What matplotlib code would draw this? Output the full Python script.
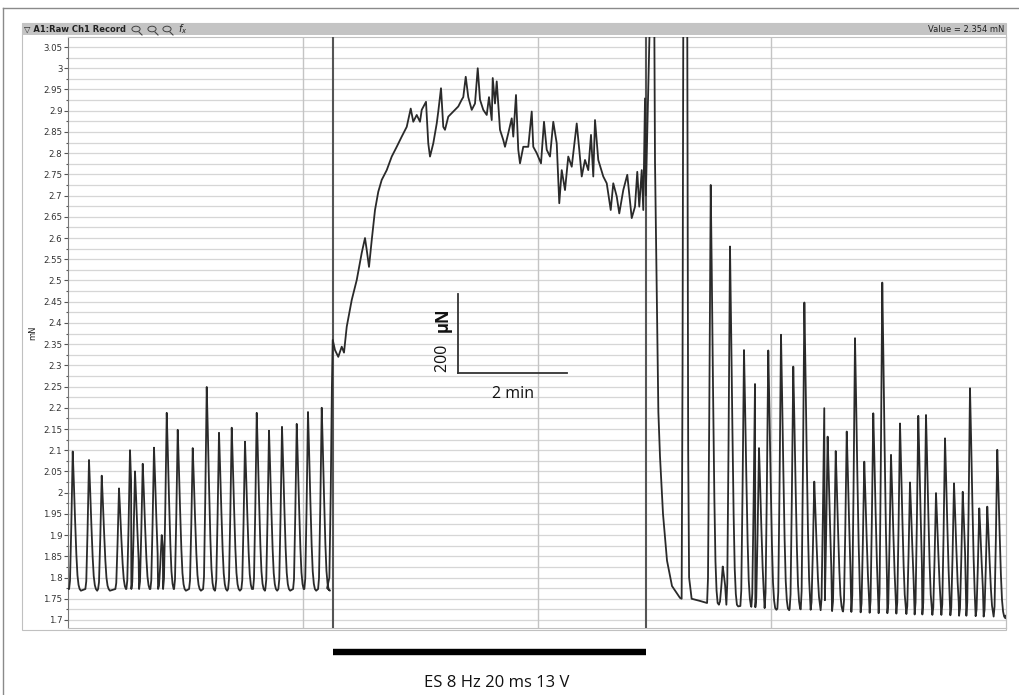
import matplotlib
matplotlib.use("Agg")
import matplotlib.pyplot as plt
from matplotlib.patches import Rectangle, Circle
from matplotlib.lines import Line2D
import numpy as np

# ---------------- data (time in s, force in mN) ----------------
pre_base = 1.773
pre_peak_t = [5.2, 23.1, 37.1, 56.1, 68.2, 73.7, 82.2, 94.6, 103.1, 108.6, 120.7,
              137.2, 152.6, 166.1, 180.1, 194.7, 207.6, 221.1, 235.4, 251.6, 264.0, 279.1]
pre_peak_v = [2.097, 2.077, 2.040, 2.010, 2.100, 2.050, 2.068, 2.106, 1.900, 2.188, 2.148,
              2.105, 2.249, 2.141, 2.153, 2.120, 2.188, 2.146, 2.155, 2.162, 2.190, 2.200]

onset_t = [285.0, 287.5, 289.0, 290.3]
onset_v = [1.775, 1.800, 2.000, 2.250]

stim_t = [291.2, 293.7, 297.3, 301.1, 303.6, 306.6, 312.1, 317.6, 323.1, 326.7, 328.6, 331.1,
          334.1, 337.7, 341.3, 345.1, 350.6, 356.1, 361.6, 367.1, 372.6, 377.0, 379.8, 383.6,
          387.2, 389.1, 393.8, 396.3, 398.2, 401.8, 405.6, 407.3, 410.3, 412.8, 414.7, 418.3,
          423.8, 429.3, 433.1, 434.8, 437.5, 440.3, 444.1, 447.7, 450.7, 453.2, 456.8, 460.6,
          463.1, 466.1, 467.2, 469.7, 471.6, 475.2, 478.8, 480.7, 484.3, 488.1, 489.8, 492.8,
          495.3, 497.2, 500.8, 506.3, 510.1, 511.8, 515.6, 520.3, 523.6, 526.6, 530.2, 533.8,
          537.6, 540.4, 543.1, 546.7, 550.3, 554.1, 559.6, 562.4, 565.1, 568.7, 572.3, 575.3,
          577.8, 579.7, 583.3, 588.8, 592.6, 597.0, 599.8, 603.6, 606.4, 610.8, 615.2, 620.1,
          623.7, 626.2, 628.4, 631.1, 632.8, 634.7]
stim_v = [2.360, 2.336, 2.320, 2.344, 2.330, 2.391, 2.454, 2.501, 2.565, 2.600, 2.572, 2.532,
          2.595, 2.666, 2.709, 2.737, 2.760, 2.792, 2.815, 2.839, 2.862, 2.905, 2.874, 2.890,
          2.874, 2.902, 2.921, 2.823, 2.792, 2.823, 2.870, 2.898, 2.953, 2.862, 2.855, 2.886,
          2.898, 2.910, 2.926, 2.932, 2.980, 2.932, 2.902, 2.917, 3.000, 2.926, 2.902, 2.890,
          2.932, 2.878, 2.977, 2.917, 2.969, 2.855, 2.831, 2.815, 2.847, 2.882, 2.839, 2.937,
          2.808, 2.776, 2.815, 2.815, 2.898, 2.815, 2.800, 2.776, 2.874, 2.808, 2.792, 2.874,
          2.823, 2.682, 2.760, 2.713, 2.792, 2.768, 2.870, 2.808, 2.745, 2.784, 2.760, 2.843,
          2.745, 2.878, 2.784, 2.745, 2.729, 2.666, 2.729, 2.698, 2.658, 2.713, 2.749, 2.647,
          2.674, 2.756, 2.674, 2.760, 2.666, 2.929]

offset_t = [635.6, 642.0, 644.5, 645.7, 646.8, 648.0, 649.4, 651.2, 654.5, 658.9,
            664.4, 673.2, 675.0, 676.0, 677.0, 681.0, 682.2, 683.2, 686.0, 695.0]
offset_v = [2.700, 3.300, 3.300, 2.780, 2.600, 2.400, 2.190, 2.085, 1.950, 1.840,
            1.780, 1.752, 1.750, 2.300, 3.300, 3.300, 2.100, 1.800, 1.750, 1.745]

post_peak_t = [707.0, 720.2, 728.2, 743.6, 755.7, 760.1, 770.3, 784.3, 797.8, 810.0, 820.9,
               831.9, 835.6, 844.5, 856.6, 865.7, 875.9, 885.8, 895.7, 905.3, 915.2, 926.2,
               935.3, 943.8, 954.8, 964.7, 974.6, 984.2, 992.2, 1002.4, 1011.2, 1022.2]
post_peak_v = [2.725, 1.826, 2.580, 2.336, 2.256, 2.105, 2.335, 2.372, 2.297, 2.448, 2.026,
               2.199, 2.132, 2.098, 2.144, 2.364, 2.073, 2.187, 2.495, 2.089, 2.163, 2.024,
               2.181, 2.183, 1.999, 2.128, 2.022, 2.002, 2.246, 1.963, 1.967, 2.101]
post_base = [1.740, 1.738, 1.736, 1.733, 1.731, 1.730, 1.728, 1.727, 1.726, 1.725, 1.724,
             1.723, 1.722, 1.721, 1.720, 1.719, 1.718, 1.717, 1.716, 1.716, 1.715, 1.714,
             1.713, 1.713, 1.712, 1.712, 1.711, 1.710, 1.710, 1.709, 1.708, 1.708]
end_t = [1031.5]
end_v = [1.710]

yticks = [1.70, 1.75, 1.80, 1.85, 1.90, 1.95, 2.00, 2.05, 2.10, 2.15, 2.20, 2.25, 2.30, 2.35,
          2.40, 2.45, 2.50, 2.55, 2.60, 2.65, 2.70, 2.75, 2.80, 2.85, 2.90, 2.95, 3.00, 3.05]
ytick_labels = ["1.7", "1.75", "1.8", "1.85", "1.9", "1.95", "2", "2.05", "2.1", "2.15", "2.2",
                "2.25", "2.3", "2.35", "2.4", "2.45", "2.5", "2.55", "2.6", "2.65", "2.7",
                "2.75", "2.8", "2.85", "2.9", "2.95", "3", "3.05"]
grid_t = [258.5, 517.0, 773.0]
stim_on, stim_off = 291.5, 635.8

# ---------------- style constants (peak drawing template) ----------------
SHAPE_DT = [-4.0, -3.0, -1.6, 0.0, 1.2, 2.6, 4.0, 5.2, 6.4, 7.6, 9.0]
SHAPE_FR = [0.0, 0.06, 0.45, 1.0, 0.78, 0.50, 0.25, 0.10, 0.03, 0.0, -0.01]


def peaks_to_line(times, values, bases):
    xs, ys = [], []
    n = len(times)
    for i, (t, v, b) in enumerate(zip(times, values, bases)):
        nxt = times[i + 1] + SHAPE_DT[0] if i + 1 < n else 1e9
        for dt, fr in zip(SHAPE_DT, SHAPE_FR):
            x = t + dt
            if xs and x <= xs[-1]:
                continue
            if dt > 0 and x >= nxt:
                break
            xs.append(x)
            ys.append(b + fr * (v - b) if fr >= 0 else b - 0.004)
    return xs, ys


px_pre, py_pre = peaks_to_line(pre_peak_t, pre_peak_v, [pre_base] * len(pre_peak_t))
px_post, py_post = peaks_to_line(post_peak_t, post_peak_v, post_base)

trace_t = [0.0] + px_pre + onset_t + stim_t + offset_t + px_post + end_t
trace_v = [pre_base] + py_pre + onset_v + stim_v + offset_v + py_post + end_v

# ---------------- figure ----------------
W, H = 1020, 695
fig = plt.figure(figsize=(W / 100, H / 100), dpi=100)
fig.patch.set_facecolor("white")


def fx(px):
    return px / W


def fy(py):
    return 1 - py / H


# outer frame lines
fig.add_artist(Line2D([fx(3), fx(3)], [fy(8), fy(695)], color="#8a8a8a", lw=1.0))
fig.add_artist(Line2D([fx(3), fx(1020)], [fy(8), fy(8)], color="#8a8a8a", lw=1.0))

# panel border
fig.add_artist(Rectangle((fx(22), fy(630)), fx(1006) - fx(22), fy(23) - fy(630),
                         fill=False, edgecolor="#c0c0c0", lw=0.8))
# toolbar
fig.add_artist(Rectangle((fx(22), fy(35)), fx(1006) - fx(22), fy(23) - fy(35),
                         facecolor="#c4c4c4", edgecolor="none"))
fig.text(fx(24), fy(29), "\u25BD A1:Raw Ch1 Record", fontsize=6, color="#222",
         va="center", ha="left", fontweight="bold")
for cxp in [136, 152, 167]:
    fig.add_artist(Circle((fx(cxp), fy(29)), 0.0040, transform=fig.transFigure,
                          fill=False, edgecolor="#444", lw=0.7))
    fig.add_artist(Line2D([fx(cxp + 3), fx(cxp + 6)], [fy(32), fy(35)], color="#444", lw=0.8))
fig.text(fx(178), fy(29), "$f_x$", fontsize=7, color="#222", va="center", ha="left")
fig.text(fx(1004), fy(29), "Value = 2.354 mN", fontsize=6, color="#222",
         va="center", ha="right")
fig.text(fx(33), fy(333), "mN", fontsize=6, color="#222", rotation=90,
         va="center", ha="center")

ax = fig.add_axes([fx(68), fy(628), fx(1006) - fx(68), fy(37) - fy(628)])
ax.set_xlim(0, 1031.8)
ax.set_ylim(1.6811, 3.0737)

# horizontal grid
for v in np.arange(1.70, 3.06, 0.025):
    ax.axhline(v, color="#d6d6d6", lw=0.9, zorder=0)
for t in grid_t:
    ax.axvline(t, color="#c4c4c4", lw=1.0, zorder=1)
for t in (stim_on, stim_off):
    ax.axvline(t, color="#555555", lw=1.5, zorder=3)

ax.plot(trace_t, trace_v, color="#2a2a2a", lw=1.3, zorder=4, solid_joinstyle="round")

ax.set_yticks(yticks)
ax.set_yticklabels(ytick_labels)
ax.set_yticks(np.arange(1.725, 3.07, 0.05), minor=True)
ax.tick_params(axis="y", which="major", length=3, width=0.8, color="#555",
               labelsize=6.2, labelcolor="#333", pad=1)
ax.tick_params(axis="y", which="minor", length=1.2, width=0.8, color="#555")
ax.set_xticks([])
for s in ["top", "right", "bottom"]:
    ax.spines[s].set_color("#c0c0c0")
    ax.spines[s].set_linewidth(0.8)
ax.spines["left"].set_color("#777")
ax.spines["left"].set_linewidth(0.8)

# scale bar
ax.plot([429, 549], [2.283, 2.283], color="#333", lw=1.3, zorder=5)
ax.plot([429, 429], [2.283, 2.467], color="#333", lw=1.3, zorder=5)
ax.text(489, 2.232, "2 min", fontsize=11.5, family="Open Sans", ha="center", va="center",
        color="#111", zorder=6)
ax.text(412.5, 2.285, "200 ", fontsize=11.5, family="Open Sans", rotation=90,
        ha="center", va="bottom", color="#111", zorder=6)
ax.text(412.5, 2.378, "\u00B5N", fontsize=12, family="Open Sans", fontweight="bold",
        rotation=90, ha="center", va="bottom", color="#111", zorder=6)

# stimulus bar and label
ax.plot([stim_on, stim_off], [1.6246, 1.6246], color="black", lw=4.6,
        solid_capstyle="butt", clip_on=False)
fig.text(fx(497), fy(683), "ES 8 Hz 20 ms 13 V", fontsize=12, family="Open Sans",
         ha="center", va="center", color="#111")

fig.savefig("out.png", dpi=100)
